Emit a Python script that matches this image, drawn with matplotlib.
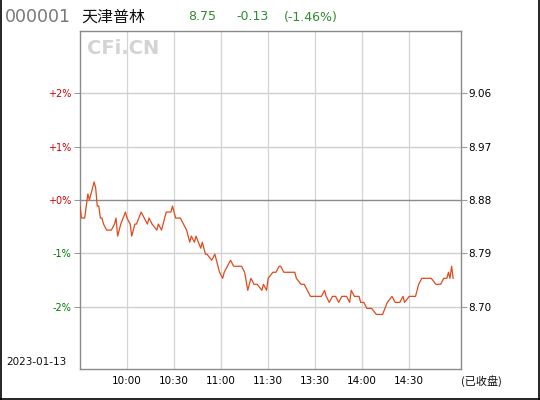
import matplotlib
matplotlib.use("Agg")
import matplotlib.pyplot as plt
from matplotlib.lines import Line2D

code = "000001"
name = "天津普林"
last_price = "8.75"
change = "-0.13"
change_pct = "(-1.46%)"
trade_date = "2023-01-13"
status = "(已收盘)"
prev_close = 8.88

# minute index since 9:30 (lunch break removed) and price
minutes = [0, 1, 3, 5, 6, 8, 9, 10, 11, 12, 13, 14, 15, 17, 20, 22, 23, 24, 26, 29,
           30, 32, 33, 35, 36, 39, 41, 43, 44, 46, 49, 50, 52, 54, 55, 58, 59, 61, 64, 66,
           68, 70, 71, 73, 74, 77, 78, 80, 81, 84, 86, 87, 89, 91, 92, 94, 96, 98, 103, 105,
           107, 109, 111, 113, 116, 117, 119, 120, 123, 125, 127, 128, 130, 137, 138, 141, 143, 145, 147, 154,
           156, 157, 159, 161, 163, 165, 167, 170, 172, 173, 175, 178, 179, 181, 183, 186, 189, 191, 193, 196,
           199, 201, 204, 206, 207, 210, 214, 216, 218, 220, 224, 227, 229, 230, 232, 233, 234, 235, 236, 237,
           238]
prices = [8.87, 8.85, 8.85, 8.89, 8.88, 8.90, 8.91, 8.90, 8.87, 8.87, 8.85, 8.85, 8.84, 8.83, 8.83, 8.84, 8.85, 8.82, 8.84, 8.86,
          8.85, 8.84, 8.82, 8.84, 8.84, 8.86, 8.85, 8.84, 8.85, 8.84, 8.83, 8.84, 8.83, 8.85, 8.86, 8.86, 8.87, 8.85, 8.85, 8.84,
          8.83, 8.81, 8.82, 8.81, 8.82, 8.80, 8.81, 8.79, 8.79, 8.78, 8.79, 8.78, 8.76, 8.75, 8.76, 8.77, 8.78, 8.77, 8.77, 8.76,
          8.73, 8.75, 8.74, 8.74, 8.73, 8.74, 8.73, 8.75, 8.76, 8.76, 8.77, 8.77, 8.76, 8.76, 8.75, 8.74, 8.74, 8.73, 8.72, 8.72,
          8.73, 8.72, 8.71, 8.72, 8.72, 8.71, 8.72, 8.72, 8.71, 8.73, 8.72, 8.72, 8.71, 8.71, 8.70, 8.70, 8.69, 8.69, 8.69, 8.71,
          8.72, 8.71, 8.71, 8.72, 8.71, 8.72, 8.72, 8.74, 8.75, 8.75, 8.75, 8.74, 8.74, 8.74, 8.75, 8.75, 8.75, 8.76, 8.75, 8.77,
          8.75]

time_ticks = [30, 60, 90, 120, 150, 180, 210]
time_labels = ["10:00", "10:30", "11:00", "11:30", "13:30", "14:00", "14:30"]
pct_ticks = [2, 1, 0, -1, -2]
pct_labels = ["+2%", "+1%", "+0%", "-1%", "-2%"]
price_labels = ["9.06", "8.97", "8.88", "8.79", "8.70"]

pct = [(p / prev_close - 1) * 100 for p in prices]

W, H = 540, 400
fig = plt.figure(figsize=(W / 100, H / 100), dpi=100)
ax = fig.add_axes([80 / W, 1 - 369 / H, 381 / W, 338 / H])

ax.set_xlim(0, 243)
ax.set_ylim(-3.16, 3.16)

for t in time_ticks:
    ax.axvline(t, color="#d4d4d4", lw=0.9, zorder=1)
for v in pct_ticks:
    ax.axhline(v, color="#8c8c8c" if v == 0 else "#cfcfcf", lw=1.0, zorder=1)

ax.plot(minutes, pct, color="#e04a1c", lw=0.9, zorder=3)

for s in ax.spines.values():
    s.set_color("#8a8a8a")
    s.set_linewidth(1.0)

ax.set_xticks(time_ticks)
ax.set_xticklabels(time_labels, fontsize=7.5)
ax.tick_params(axis="x", length=0, pad=5)

ax.set_yticks(pct_ticks)
ax.set_yticklabels(pct_labels, fontsize=7)
ax.tick_params(axis="y", length=4, color="#9a9a9a", pad=2)
for lab, v in zip(ax.get_yticklabels(), pct_ticks):
    lab.set_color("#cc0000" if v >= 0 else "#007700")

ax2 = ax.twinx()
ax2.set_ylim(ax.get_ylim())
ax2.set_yticks(pct_ticks)
ax2.set_yticklabels(price_labels, fontsize=7.5)
ax2.tick_params(axis="y", length=4, color="#9a9a9a", pad=1)
for s in ax2.spines.values():
    s.set_visible(False)

cjk = ["Noto Sans CJK SC", "DejaVu Sans"]

def ftext(x, y, s, **kw):
    fig.text(x / W, 1 - y / H, s, va="center", **kw)

ftext(5, 17, code, fontsize=12.5, color="#777777")
ftext(81, 17, name, fontsize=11.5, color="#111111", family=cjk)
ftext(188, 17, last_price, fontsize=9, color="#2e8b2e")
ftext(236, 17, change, fontsize=9, color="#2e8b2e")
ftext(284, 17, change_pct, fontsize=9, color="#2e8b2e")
ftext(87, 48, "CFi.CN", fontsize=14, color="#d3d3d3", fontweight="bold")
ftext(6, 362, trade_date, fontsize=7.5, color="#111111")
ftext(461, 381, status, fontsize=8, color="#111111", family=cjk)

# outer frame
for xs, ys in [((0.5, 0.5), (0, H)), ((W - 1, W - 1), (0, H)), ((0, W), (H - 1.5, H - 1.5))]:
    fig.add_artist(Line2D([x / W for x in xs], [1 - y / H for y in ys],
                          color="black", lw=1.2, transform=fig.transFigure))

fig.savefig("out.png", dpi=100)
